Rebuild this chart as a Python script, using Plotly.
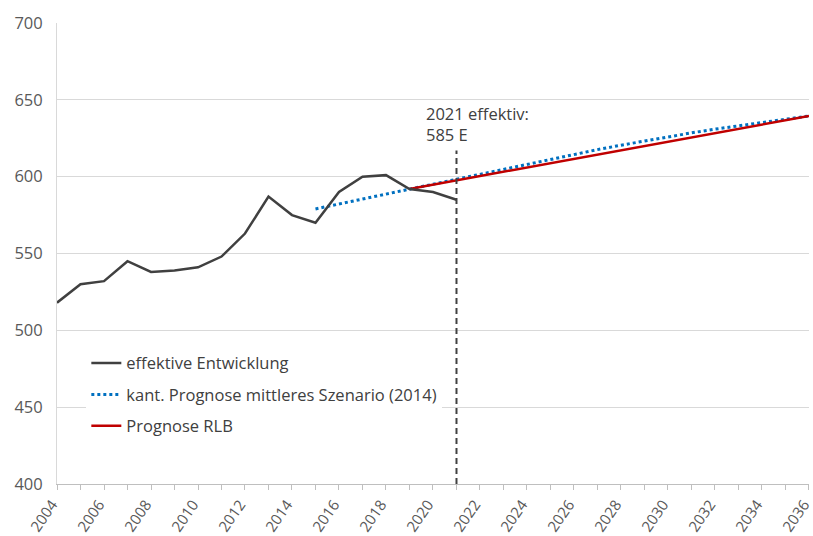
import plotly.graph_objects as go

years_eff = list(range(2004, 2022))
eff = [518, 530, 532, 545, 538, 539, 541, 548, 563, 587, 575, 570, 590, 600, 601, 592, 590, 585]

years_kant = list(range(2015, 2037))
kant = [579, 582.2, 585.5, 588.8, 592, 595.3, 598.6, 601.9, 605.1, 608.3, 611.5, 614.6,
        617.6, 620.5, 623.3, 626, 628.5, 630.9, 633.1, 635.2, 637.4, 639.5]

years_rlb = list(range(2019, 2037))
rlb = [592.0, 594.8, 597.6, 600.4, 603.2, 606.0, 608.7, 611.5, 614.3, 617.1, 619.9,
       622.7, 625.5, 628.3, 631.1, 633.9, 636.7, 639.5]

names = ["effektive Entwicklung", "kant. Prognose mittleres Szenario (2014)", "Prognose RLB"]
marker_year = 2021
annotation_text = "2021 effektiv:<br>585 E"

FONT = "Open Sans"
TXT = "#595959"

fig = go.Figure()
fig.add_trace(go.Scatter(x=years_kant, y=kant, mode="lines", name=names[1],
                         line=dict(color="#0070C0", width=3, dash="dot"),
                         legendgroup="b", legendrank=2))
fig.add_trace(go.Scatter(x=years_rlb, y=rlb, mode="lines", name=names[2],
                         line=dict(color="#C00000", width=2.5),
                         legendgroup="c", legendrank=3))
fig.add_trace(go.Scatter(x=years_eff, y=eff, mode="lines", name=names[0],
                         line=dict(color="#404040", width=2.5),
                         legendgroup="a", legendrank=1))

fig.add_shape(type="line", xref="x", yref="y", x0=marker_year, x1=marker_year,
              y0=400, y1=617, line=dict(color="#404040", width=2, dash="6px,4px"))

fig.add_annotation(x=2019.6, y=634.0, xref="x", yref="y", text=annotation_text,
                   showarrow=False, xanchor="left", yanchor="middle", align="left",
                   font=dict(family=FONT, size=16.5, color="#404040"))

fig.update_layout(
    width=813, height=536,
    margin=dict(l=57, r=4, t=23, b=52),
    paper_bgcolor="white", plot_bgcolor="white",
    font=dict(family=FONT, size=16.5, color=TXT),
    showlegend=True,
    legend=dict(x=0.039, y=0.30, xanchor="left", yanchor="top",
                bgcolor="white", borderwidth=0, tracegroupgap=7,
                font=dict(family=FONT, size=16.5, color="#404040")),
)
fig.update_xaxes(range=[2004, 2036.001], dtick=2, tick0=2004, tickangle=-55,
                 showgrid=False, zeroline=False, showline=True, linecolor="#bfbfbf",
                 linewidth=1, ticks="outside", ticklen=5, tickcolor="#bfbfbf",
                 ticklabeloverflow="allow", ticklabelstandoff=0, ticklabelshift=-5,
                 minor=dict(dtick=1, ticks="outside", ticklen=5, tickcolor="#bfbfbf", showgrid=False),
                 tickfont=dict(family=FONT, size=15, color=TXT), automargin=False)
fig.update_yaxes(range=[400, 700], dtick=50, showgrid=True, gridcolor="#d9d9d9",
                 gridwidth=1, zeroline=False, showline=True, linecolor="#d9d9d9",
                 ticks="", ticklabelstandoff=10,
                 tickfont=dict(family=FONT, size=16.5, color=TXT), automargin=False)

fig.write_html("out.html")
